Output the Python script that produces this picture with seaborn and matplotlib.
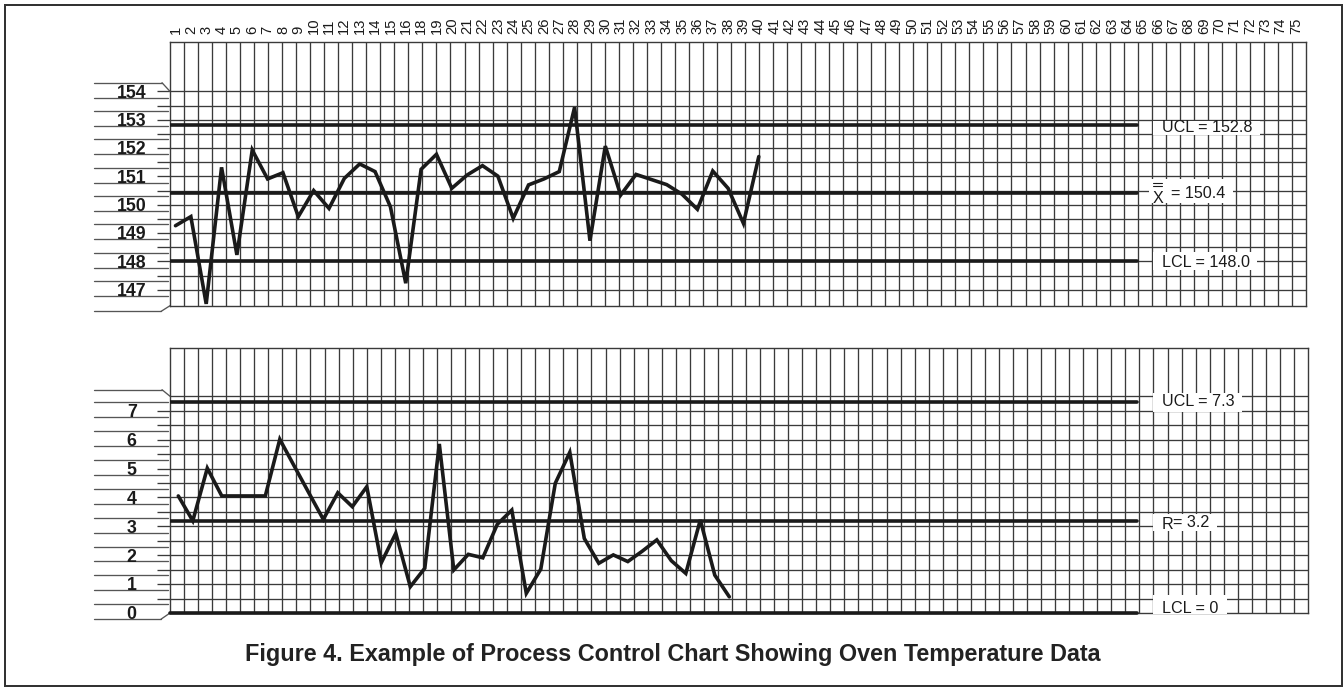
import numpy as np
import matplotlib
matplotlib.use("Agg")
import matplotlib.pyplot as plt
import matplotlib.transforms as mtransforms
from matplotlib.patches import Rectangle
import seaborn as sns

# ---------------- data ----------------
sample_no = list(range(1, 40))
xbar_values = [149.26, 149.58, 146.50, 151.32, 148.23, 151.93, 150.91, 151.13, 149.58, 150.50,
               149.87, 150.93, 151.44, 151.17, 149.93, 147.23, 151.25, 151.78, 150.58, 151.05,
               151.38, 151.01, 149.52, 150.70, 150.91, 151.17, 153.44, 148.73, 152.07, 150.34,
               151.07, 150.89, 150.71, 150.37, 149.84, 151.19, 150.58, 149.34, 151.70]
range_values = [4.05, 3.19, 5.01, 4.05, 4.05, 4.05, 4.05, 6.01, 5.08, 4.16,
                3.24, 4.16, 3.68, 4.37, 1.74, 2.76, 0.91, 1.55, 5.85, 1.49,
                2.03, 1.91, 3.07, 3.56, 0.68, 1.52, 4.49, 5.56, 2.58, 1.72,
                2.01, 1.78, 2.14, 2.53, 1.81, 1.37, 3.22, 1.31, 0.56]
xbar_ucl, xbar_cl, xbar_lcl = 152.8, 150.4, 148.0
range_ucl, range_cl, range_lcl = 7.3, 3.2, 0.0
column_labels = [str(n) for n in range(1, 17)] + [str(n) for n in range(18, 76)]
xbar_axis_labels = [154, 153, 152, 151, 150, 149, 148, 147]
range_axis_labels = [7, 6, 5, 4, 3, 2, 1, 0]
xbar_grid = list(np.arange(147.0, 154.01, 0.5))
range_grid = list(np.arange(0.5, 7.51, 0.5))
title_text = "Figure 4. Example of Process Control Chart Showing Oven Temperature Data"

# ---------------- style ----------------
sns.set_style("white")
plt.rcParams["font.family"] = ["Liberation Sans", "DejaVu Sans"]

W, H = 1343, 687
PT = 72.0 / 100.0          # points per pixel
INK = "#1a1a1a"
GRID = "#3a3a3a"
STRIP = "#555555"
GLW = 0.95
THICK = 2.6

fig = plt.figure(figsize=(W / 100, H / 100), dpi=100)
fig.patch.set_facecolor("white")

TOP = dict(left=170, right=1306, top=41.7, bottom=305.7, x1=175.5, dx=15.35,
           yref=150.4, yref_px=193.4, s=28.33)
BOT = dict(left=170, right=1308, top=348, bottom=613, x1=178.3, dx=14.5,
           yref=0.0, yref_px=613, s=28.9)


def make_panel(g, grid_vals):
    ax = fig.add_axes([g["left"] / W, 1 - g["bottom"] / H,
                       (g["right"] - g["left"]) / W, (g["bottom"] - g["top"]) / H])
    g["xlim"] = (1 + (g["left"] - g["x1"]) / g["dx"], 1 + (g["right"] - g["x1"]) / g["dx"])
    g["ylim"] = (g["yref"] - (g["bottom"] - g["yref_px"]) / g["s"],
                 g["yref"] + (g["yref_px"] - g["top"]) / g["s"])
    ax.set_facecolor("white")
    for x in np.linspace(g["xlim"][0], g["xlim"][1], 82)[1:-1]:
        ax.axvline(x, color=GRID, lw=GLW, zorder=1)
    for v in grid_vals:
        ax.axhline(v, color=GRID, lw=GLW, zorder=1)
    for sp in ax.spines.values():
        sp.set_visible(True)
        sp.set_color(GRID)
        sp.set_linewidth(1.0)
    return ax


def finish_limits(ax, g):
    ax.set_xlim(*g["xlim"])
    ax.set_ylim(*g["ylim"])
    ax.set_xlabel("")
    ax.set_ylabel("")


def xf(g, px):
    return (px - g["left"]) / (g["right"] - g["left"])


def bt(ax):
    return mtransforms.blended_transform_factory(ax.transAxes, ax.transData)


def control_line(ax, g, v, clip=True):
    ax.axhline(v, xmin=0, xmax=xf(g, 1137), color=INK, lw=THICK,
               solid_capstyle="round", zorder=4, clip_on=clip)


def strip(ax, g, labels, extra, diag_top, diag_bottom):
    t = bt(ax)
    s = g["s"]
    ys = []
    for v in labels:
        ys += [v + 8.7 / s, v - 6.2 / s]
    ys.append(extra)
    ys = sorted(ys)
    for i, y in enumerate(ys):
        if i == 0:
            xe = 161
        elif i == len(ys) - 1:
            xe = 162
        else:
            xe = 168
        ax.plot([xf(g, 94), xf(g, xe)], [y, y], transform=t, color=STRIP,
                lw=GLW, clip_on=False, zorder=2)
    ax.plot([xf(g, 162), 0], [ys[-1], diag_top], transform=t, color=STRIP,
            lw=GLW, clip_on=False)
    ax.plot([xf(g, 161), 0], [ys[0], diag_bottom], transform=t, color=STRIP,
            lw=GLW, clip_on=False)
    for v in labels:
        ax.annotate(str(v), xy=(xf(g, 131.7), v), xycoords=t,
                    xytext=(0, -0.358 * 12.8), textcoords="offset points",
                    ha="center", va="baseline", fontsize=12.8, fontweight="bold",
                    color=INK, annotation_clip=False, zorder=5)


def right_label(ax, g, v, text, left_px, dy_px, box, fs=11.6):
    t = bt(ax)
    s = g["s"]
    x0, x1, rt, rb = box
    ax.add_patch(Rectangle((xf(g, x0), v - rb / s), xf(g, x1) - xf(g, x0), (rb - rt) / s,
                           transform=t, facecolor="white", edgecolor="none",
                           zorder=3, clip_on=False))
    ax.annotate(text, xy=(xf(g, left_px), v), xycoords=t,
                xytext=(0, -0.358 * fs - dy_px * PT), textcoords="offset points",
                ha="left", va="baseline", fontsize=fs, color=INK,
                annotation_clip=False, zorder=5)


def y_ticks(ax, grid_vals):
    ax.set_yticks(grid_vals)
    ax.set_yticklabels([])
    ax.tick_params(axis="y", left=True, right=False, direction="out",
                   length=13 * PT, width=GLW, color=GRID, labelleft=False)


# ---------------- top: X-bar chart ----------------
ax1 = make_panel(TOP, xbar_grid)
for v in (xbar_ucl, xbar_cl, xbar_lcl):
    control_line(ax1, TOP, v)
sns.lineplot(x=sample_no, y=xbar_values, ax=ax1, color=INK, linewidth=THICK,
             zorder=6, solid_joinstyle="miter")
ax1.lines[-1].set_clip_on(False)
finish_limits(ax1, TOP)
y_ticks(ax1, xbar_grid)
ax1.set_xticks(range(1, len(column_labels) + 1))
ax1.set_xticklabels(column_labels, rotation=90, fontsize=10.6, color=INK)
ax1.tick_params(axis="x", top=True, labeltop=True, bottom=False, labelbottom=False,
                length=0, pad=8.0 * PT)
strip(ax1, TOP, xbar_axis_labels, 147 - 21.7 / TOP["s"], 154.0, TOP["ylim"][0])

right_label(ax1, TOP, xbar_ucl, "UCL = 152.8", 1161.7, 1.3, (1153, 1260, -4.0, 10.0))
right_label(ax1, TOP, xbar_cl, "= 150.4", 1170.7, -1.0, (1149, 1233, -14.4, 9.6))
right_label(ax1, TOP, xbar_cl, "X", 1152.7, 3.8, (1149, 1149.1, 0, 0.1))
for off in (-10.7, -7.7):
    ax1.plot([xf(TOP, 1153.3), xf(TOP, 1161.7)],
             [xbar_cl - off / TOP["s"]] * 2, transform=bt(ax1),
             color=INK, lw=0.8, zorder=5, clip_on=False)
right_label(ax1, TOP, xbar_lcl, "LCL = 148.0", 1161.7, -0.5, (1153, 1257, -9.0, 8.5))

# ---------------- bottom: Range chart ----------------
ax2 = make_panel(BOT, range_grid)
for v in (range_ucl, range_cl):
    control_line(ax2, BOT, v)
control_line(ax2, BOT, range_lcl, clip=False)
sns.lineplot(x=sample_no, y=range_values, ax=ax2, color=INK, linewidth=THICK,
             zorder=6, solid_joinstyle="miter")
finish_limits(ax2, BOT)
y_ticks(ax2, range_grid[:-1])
ax2.set_xticks([])
strip(ax2, BOT, range_axis_labels, 7 + 21.0 / BOT["s"], 7.5, 0.0)

right_label(ax2, BOT, range_ucl, "UCL = 7.3", 1161.7, -2.0, (1153, 1242, -9.0, 10.0))
right_label(ax2, BOT, range_cl, "= 3.2", 1173.3, 0.5, (1153, 1217, -6.8, 10.5))
right_label(ax2, BOT, range_cl, "R", 1161.7, 2.5, (1153, 1153.1, 0, 0.1))
right_label(ax2, BOT, range_lcl, "LCL = 0", 1161.7, -5.3, (1153, 1227, -18.0, 1.0))

# ---------------- title and frame ----------------
fig.text(673 / W, 1 - 660.5 / H, title_text, ha="center", va="baseline",
         fontsize=16.8, fontweight="bold", color="#222222")
fig.add_artist(Rectangle((4.5 / W, 1 - 686 / H), (1341.7 - 4.5) / W, (686 - 5) / H,
                         transform=fig.transFigure, fill=False,
                         edgecolor="#333333", lw=2 * PT))

fig.savefig("out.png", dpi=100, facecolor="white")
